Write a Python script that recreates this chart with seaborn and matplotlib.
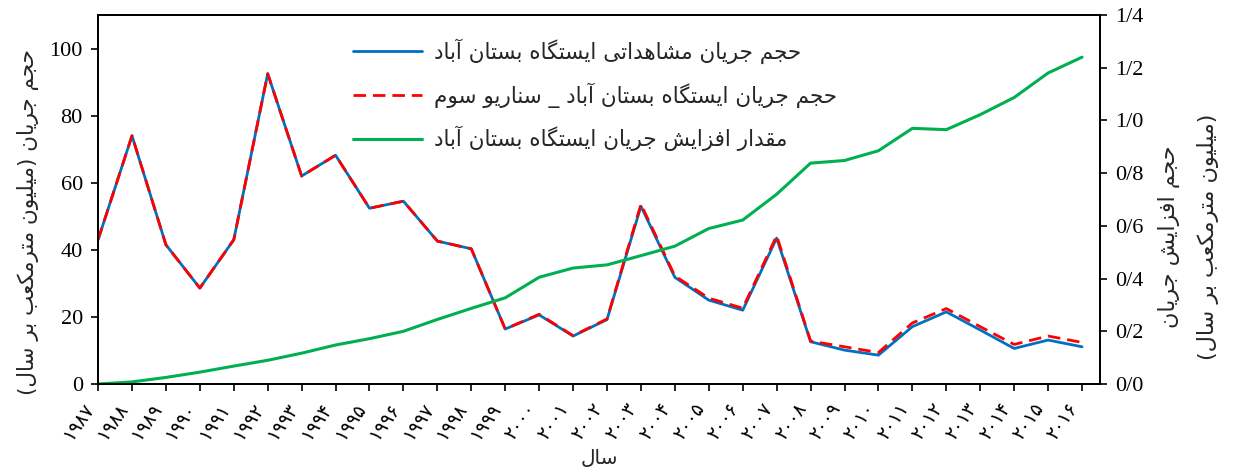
import matplotlib
matplotlib.use('Agg')
import matplotlib.pyplot as plt
import matplotlib.ticker as mticker
import pandas as pd
import seaborn as sns

# -------------------------------------------------------
# data
years = [1987, 1988, 1989, 1990, 1991, 1992, 1993, 1994, 1995, 1996,
         1997, 1998, 1999, 2000, 2001, 2002, 2003, 2004, 2005, 2006,
         2007, 2008, 2009, 2010, 2011, 2012, 2013, 2014, 2015, 2016]
# million m3 per year (left axis)
observed = [43.0, 74.0, 41.5, 28.6, 43.0, 92.5, 62.0, 68.2, 52.4, 54.5,
            42.6, 40.3, 16.4, 20.6, 14.3, 19.2, 53.0, 31.8, 25.0, 22.0,
            43.5, 12.6, 10.1, 8.6, 17.1, 21.5, 16.1, 10.6, 13.1, 11.1]
scenario3 = [43.0, 74.0, 41.5, 28.6, 43.0, 92.5, 62.0, 68.2, 52.4, 54.5,
             42.6, 40.3, 16.4, 20.8, 14.4, 19.4, 53.6, 32.2, 25.6, 22.6,
             44.2, 12.8, 11.1, 9.4, 18.2, 22.5, 17.1, 11.8, 14.3, 12.4]
# cumulative increase (right axis)
increase = [0.0, 0.008, 0.025, 0.045, 0.068, 0.09, 0.117, 0.148, 0.172, 0.2,
            0.245, 0.287, 0.327, 0.405, 0.44, 0.452, 0.487, 0.523, 0.59, 0.622,
            0.72, 0.838, 0.848, 0.885, 0.97, 0.965, 1.022, 1.087, 1.18, 1.24]

label_observed = 'حجم جریان مشاهداتی ایستگاه بستان آباد'
label_scenario = 'حجم جریان ایستگاه بستان آباد _ سناریو سوم'
label_increase = 'مقدار افزایش جریان ایستگاه بستان آباد'
ylabel_left = 'حجم جریان (میلیون مترمکعب بر سال)'
ylabel_right = ['حجم افزایش جریان', '(میلیون مترمکعب بر سال)']
xlabel = 'سال'

# -------------------------------------------------------
# tiny arabic/persian shaper (matplotlib has no shaping / bidi)
FORMS = {
    'ا': ('\uFE8D', '\uFE8E'), 'آ': ('\uFE81', '\uFE82'),
    'د': ('\uFEA9', '\uFEAA'), 'ر': ('\uFEAD', '\uFEAE'),
    'ز': ('\uFEAF', '\uFEB0'), 'و': ('\uFEED', '\uFEEE'),
    'ب': ('\uFE8F', '\uFE90', '\uFE91', '\uFE92'),
    'پ': ('\uFB56', '\uFB57', '\uFB58', '\uFB59'),
    'ت': ('\uFE95', '\uFE96', '\uFE97', '\uFE98'),
    'ج': ('\uFE9D', '\uFE9E', '\uFE9F', '\uFEA0'),
    'ح': ('\uFEA1', '\uFEA2', '\uFEA3', '\uFEA4'),
    'س': ('\uFEB1', '\uFEB2', '\uFEB3', '\uFEB4'),
    'ش': ('\uFEB5', '\uFEB6', '\uFEB7', '\uFEB8'),
    'ع': ('\uFEC9', '\uFECA', '\uFECB', '\uFECC'),
    'ف': ('\uFED1', '\uFED2', '\uFED3', '\uFED4'),
    'ق': ('\uFED5', '\uFED6', '\uFED7', '\uFED8'),
    'ک': ('\uFB8E', '\uFB8F', '\uFB90', '\uFB91'),
    'گ': ('\uFB92', '\uFB93', '\uFB94', '\uFB95'),
    'ل': ('\uFEDD', '\uFEDE', '\uFEDF', '\uFEE0'),
    'م': ('\uFEE1', '\uFEE2', '\uFEE3', '\uFEE4'),
    'ن': ('\uFEE5', '\uFEE6', '\uFEE7', '\uFEE8'),
    'ه': ('\uFEE9', '\uFEEA', '\uFEEB', '\uFEEC'),
    'ی': ('\uFBFC', '\uFBFD', '\uFBFE', '\uFBFF'),
}
MIRROR = {'(': ')', ')': '('}


def fa(text):
    out = []
    for i, c in enumerate(text):
        if c not in FORMS:
            out.append(c)
            continue
        prev = text[i - 1] if i > 0 else ''
        nxt = text[i + 1] if i + 1 < len(text) else ''
        join_prev = prev in FORMS and len(FORMS[prev]) == 4
        join_next = len(FORMS[c]) == 4 and nxt in FORMS
        if join_prev and join_next:
            out.append(FORMS[c][3])
        elif join_prev:
            out.append(FORMS[c][1])
        elif join_next:
            out.append(FORMS[c][2])
        else:
            out.append(FORMS[c][0])
    return ''.join(MIRROR.get(c, c) for c in reversed(out))


fa_digits = str.maketrans('0123456789', '۰۱۲۳۴۵۶۷۸۹')

df = pd.DataFrame({'year': years, 'observed': observed,
                   'scenario3': scenario3, 'increase': increase})

# -------------------------------------------------------
# chart
sns.set_style('ticks')
plt.rcParams['font.family'] = ['Liberation Serif', 'DejaVu Sans']
fa_font = ['DejaVu Sans']

fig = plt.figure(figsize=(12.35, 4.67), dpi=100)
ax = fig.add_axes([0.0794, 0.1777, 0.8113, 0.7902])
ax2 = ax.twinx()

sns.lineplot(data=df, x='year', y='observed', ax=ax, color='#0070C0',
             linewidth=2.0, label=fa(label_observed), legend=False)
sns.lineplot(data=df, x='year', y='scenario3', ax=ax, color='#FF0000',
             linewidth=2.0, label=fa(label_scenario), legend=False)
ax.lines[-1].set_dashes([4.5, 2.5])
sns.lineplot(data=df, x='year', y='increase', ax=ax2, color='#00B050',
             linewidth=2.2, label=fa(label_increase), legend=False)

# axes ranges
ax.set_xlim(1987, 2016.53)
ax.set_ylim(0, 110)
ax2.set_ylim(0, 1.4)
ax.set_yticks([0, 20, 40, 60, 80, 100])
ax2.set_yticks([0, 0.2, 0.4, 0.6, 0.8, 1.0, 1.2, 1.4])
ax2.yaxis.set_major_formatter(mticker.FuncFormatter(lambda v, pos: f'{v:.1f}'.replace('.', '/')))

ax.set_xticks(years)
ax.set_xticklabels([str(y).translate(fa_digits) for y in years],
                   rotation=55, ha='right', family=fa_font)

for a in (ax, ax2):
    a.tick_params(direction='out', length=5, width=1.2, colors='black',
                  labelsize=16, pad=6)
    for s in a.spines.values():
        s.set_visible(True)
        s.set_color('black')
        s.set_linewidth(1.3)
ax.tick_params(axis='x', labelsize=13.5, pad=6)

# labels
ax.set_xlabel(fa(xlabel), family=fa_font, fontsize=14.5, labelpad=4)
ax.set_ylabel(fa(ylabel_left), family=fa_font, fontsize=15.5)
ax.yaxis.set_label_coords(-0.059, 0.44)
ax2.set_ylabel(fa(ylabel_right[0]) + '\n' + fa(ylabel_right[1]),
               family=fa_font, fontsize=16, linespacing=2.0)
ax2.yaxis.set_label_coords(1.058, 0.40)

# legend, no frame
handles, labels = ax.get_legend_handles_labels()
h2, l2 = ax2.get_legend_handles_labels()
leg = ax2.legend(handles + h2, labels + l2, loc='upper left',
                 bbox_to_anchor=(0.246, 0.96), frameon=False,
                 prop={'family': fa_font, 'size': 15.5},
                 handlelength=3.2, handletextpad=0.55,
                 labelspacing=0.85, borderaxespad=0)

fig.savefig('out.png', dpi=100)
